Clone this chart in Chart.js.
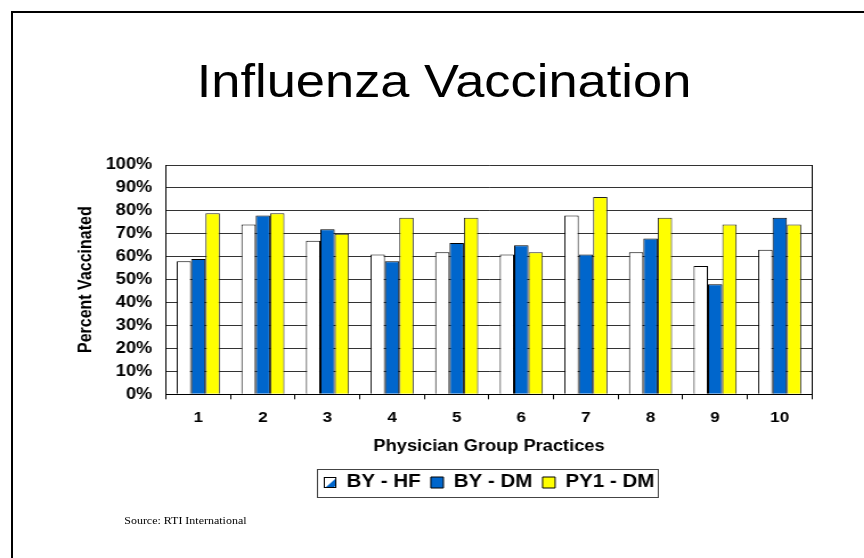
<!DOCTYPE html>
<html lang="en">
<head>
<meta charset="UTF-8">
<title>Influenza Vaccination</title>
<style>
  html, body { margin: 0; padding: 0; background: #fff; }
  body { width: 864px; height: 558px; overflow: hidden; position: relative; font-family: "Liberation Sans", Arial, sans-serif; }
  .frame { position: absolute; left: 11px; top: 11px; width: 900px; height: 600px; border-top: 2px solid #000; border-left: 2px solid #000; box-sizing: border-box; }
  /* the slide is drawn a bit narrower, then stretched like the original picture */
  .slide { position: absolute; left: 0; top: 0; width: 758px; height: 558px; transform: scaleX(1.14); transform-origin: 0 0; }
  .title { position: absolute; left: 0; top: 53px; width: 779px; text-align: center; font-size: 46px; line-height: 56px; color: #000; white-space: nowrap; }
  .source { position: absolute; left: 109px; top: 515px; font-family: "Liberation Serif", "Times New Roman", serif; font-size: 10.5px; line-height: 12px; color: #000; white-space: nowrap; }
  .chart { position: absolute; left: 0; top: 0; width: 758px; height: 558px; }
</style>
</head>
<body>
  <div class="frame"></div>
  <div class="slide">
    <div class="title">Influenza Vaccination</div>
    <div class="chart"><canvas id="fluChart"></canvas></div>
    <div class="source">Source: RTI International</div>
  </div>

  <script src="https://cdn.jsdelivr.net/npm/chart.js"></script>
  <script>
    const groups = ['1', '2', '3', '4', '5', '6', '7', '8', '9', '10'];
    const seriesNames = ['BY - HF', 'BY - DM', 'PY1 - DM'];
    const byHF = [58, 74, 67, 61, 62, 61, 78, 62, 56, 63];
    const byDM = [59, 78, 72, 58, 66, 65, 61, 68, 48, 77];
    const py1DM = [79, 79, 70, 77, 77, 62, 86, 77, 74, 74];

    const BLUE = '#0066CC';
    const YELLOW = '#FFFF00';

    // legend marker for BY - HF: white square with a blue diagonal half
    const hfMarker = document.createElement('canvas');
    hfMarker.width = 11;
    hfMarker.height = 11;
    (function () {
      const c = hfMarker.getContext('2d');
      c.fillStyle = '#fff';
      c.fillRect(0, 0, 11, 11);
      c.fillStyle = BLUE;
      c.beginPath();
      c.moveTo(1, 11);
      c.lineTo(11, 1);
      c.lineTo(11, 8);
      c.lineTo(8, 11);
      c.closePath();
      c.fill();
      c.strokeStyle = '#000';
      c.lineWidth = 1;
      c.strokeRect(0.5, 0.5, 10, 10);
    })();

    const frameLines = {
      id: 'frameLines',
      afterDraw(chart) {
        const ctx = chart.ctx;
        const a = chart.chartArea;
        ctx.save();
        ctx.strokeStyle = '#000';
        ctx.lineWidth = 1;
        ctx.beginPath();
        ctx.moveTo(Math.round(a.right) + 0.5, a.top);
        ctx.lineTo(Math.round(a.right) + 0.5, a.bottom);
        ctx.stroke();

        // box round the legend
        const hb = chart.legend.legendHitBoxes;
        if (hb && hb.length) {
          const last = hb[hb.length - 1];
          const left = hb[0].left - 6;
          const right = last.left + last.width + 3;
          const cy = hb[0].top + hb[0].height / 2;
          ctx.strokeStyle = '#444';
          ctx.strokeRect(Math.round(left) + 0.5, Math.round(cy - 14) + 0.5, Math.round(right - left), 28);
        }
        ctx.restore();
      }
    };

    const boldFont = size => ({ family: '"Liberation Sans", Arial, sans-serif', size: size, weight: 'bold' });

    new Chart(document.getElementById('fluChart'), {
      type: 'bar',
      data: {
        labels: groups,
        datasets: [
          { label: seriesNames[0], data: byHF, backgroundColor: '#FFFFFF', borderColor: '#000', borderWidth: 1 },
          { label: seriesNames[1], data: byDM, backgroundColor: BLUE, borderColor: '#000', borderWidth: 1 },
          { label: seriesNames[2], data: py1DM, backgroundColor: YELLOW, borderColor: '#222', borderWidth: 1 }
        ]
      },
      options: {
        responsive: true,
        maintainAspectRatio: false,
        animation: false,
        datasets: { bar: { categoryPercentage: 0.667, barPercentage: 1 } },
        layout: { padding: { left: 60, right: 45.7, top: 165, bottom: 56.5 } },
        scales: {
          x: {
            grid: { offset: true, drawOnChartArea: false, drawTicks: true, tickLength: 5, color: '#000' },
            border: { color: '#000' },
            ticks: { font: boldFont(15), color: '#000', padding: 10 },
            title: { display: true, text: 'Physician Group Practices', font: boldFont(16), color: '#000', padding: { top: 0, bottom: 8 } }
          },
          y: {
            min: 0,
            max: 100,
            afterFit(scale) { scale.width = 85.6; },
            grid: { color: '#333', drawTicks: false },
            border: { color: '#000' },
            ticks: { stepSize: 10, font: boldFont(16), color: '#000', padding: 12, callback: v => v + '%' },
            title: { display: true, text: 'Percent Vaccinated', font: boldFont(16), color: '#000', padding: { top: 6, bottom: 0 } }
          }
        },
        plugins: {
          title: { display: false },
          tooltip: { enabled: false },
          legend: {
            position: 'bottom',
            fullSize: false,
            labels: {
              usePointStyle: true,
              boxWidth: 11,
              boxHeight: 11,
              padding: 9,
              color: '#000',
              font: boldFont(18),
              generateLabels(chart) {
                const items = Chart.defaults.plugins.legend.labels.generateLabels(chart);
                items.forEach((it, i) => {
                  it.pointStyle = i === 0 ? hfMarker : 'rect';
                  it.strokeStyle = '#000';
                  it.lineWidth = 1;
                });
                return items;
              }
            }
          }
        }
      },
      plugins: [frameLines]
    });
  </script>
</body>
</html>
